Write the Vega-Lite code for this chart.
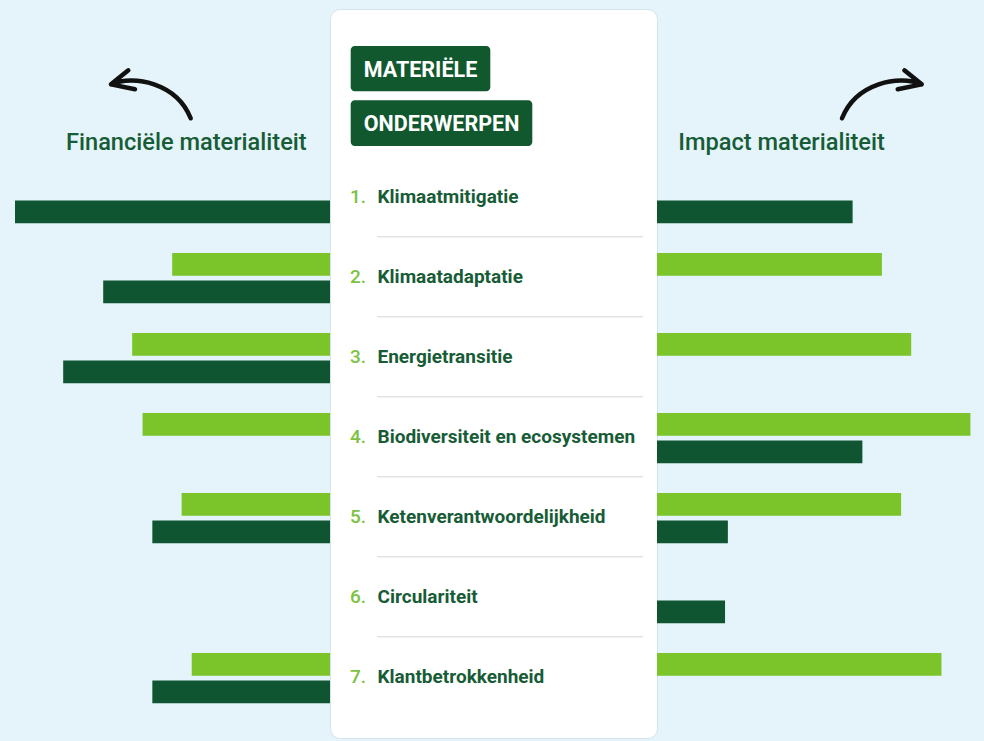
{
  "$schema": "https://vega.github.io/schema/vega-lite/v6.json",
  "background": "#e4f4fa",
  "padding": {"top": 8, "bottom": 4, "left": 0, "right": 0},
  "spacing": 0,
  "bounds": "flush",
  "config": {"view": {"stroke": null}, "concat": {"spacing": 0}},
  "datasets": {
    "balken": [
      {"kant": "financieel", "nr": 1, "reeks": "reeks 2", "waarde": 100},
      {"kant": "financieel", "nr": 2, "reeks": "reeks 1", "waarde": 50.1},
      {"kant": "financieel", "nr": 2, "reeks": "reeks 2", "waarde": 72.0},
      {"kant": "financieel", "nr": 3, "reeks": "reeks 1", "waarde": 62.8},
      {"kant": "financieel", "nr": 3, "reeks": "reeks 2", "waarde": 84.7},
      {"kant": "financieel", "nr": 4, "reeks": "reeks 1", "waarde": 59.5},
      {"kant": "financieel", "nr": 5, "reeks": "reeks 1", "waarde": 47.1},
      {"kant": "financieel", "nr": 5, "reeks": "reeks 2", "waarde": 56.4},
      {"kant": "financieel", "nr": 7, "reeks": "reeks 1", "waarde": 43.9},
      {"kant": "financieel", "nr": 7, "reeks": "reeks 2", "waarde": 56.4},
      {"kant": "impact", "nr": 1, "reeks": "reeks 2", "waarde": 62.1},
      {"kant": "impact", "nr": 2, "reeks": "reeks 1", "waarde": 71.4},
      {"kant": "impact", "nr": 3, "reeks": "reeks 1", "waarde": 80.7},
      {"kant": "impact", "nr": 4, "reeks": "reeks 1", "waarde": 99.5},
      {"kant": "impact", "nr": 4, "reeks": "reeks 2", "waarde": 65.2},
      {"kant": "impact", "nr": 5, "reeks": "reeks 1", "waarde": 77.5},
      {"kant": "impact", "nr": 5, "reeks": "reeks 2", "waarde": 22.5},
      {"kant": "impact", "nr": 6, "reeks": "reeks 2", "waarde": 21.6},
      {"kant": "impact", "nr": 7, "reeks": "reeks 1", "waarde": 90.3}
    ],
    "onderwerpen": [
      {"nr": 1, "num": "1.", "naam": "Klimaatmitigatie"},
      {"nr": 2, "num": "2.", "naam": "Klimaatadaptatie"},
      {"nr": 3, "num": "3.", "naam": "Energietransitie"},
      {"nr": 4, "num": "4.", "naam": "Biodiversiteit en ecosystemen"},
      {"nr": 5, "num": "5.", "naam": "Ketenverantwoordelijkheid"},
      {"nr": 6, "num": "6.", "naam": "Circulariteit"},
      {"nr": 7, "num": "7.", "naam": "Klantbetrokkenheid"}
    ]
  },
  "hconcat": [
    {
      "width": 330,
      "height": 729,
      "layer": [
        {
          "data": {"name": "balken"},
          "transform": [{"filter": "datum.kant === 'financieel'"}],
          "mark": {"type": "bar"},
          "encoding": {
            "y": {"field": "nr", "type": "ordinal", "axis": null,
                  "scale": {"domain": [1, 2, 3, 4, 5, 6, 7], "paddingInner": 0.371, "paddingOuter": 0, "range": [164, 694.3]}},
            "yOffset": {"field": "reeks", "type": "nominal",
                        "scale": {"domain": ["reeks 1", "reeks 2"], "paddingInner": 0.178, "paddingOuter": 0}},
            "x": {"field": "waarde", "type": "quantitative", "axis": null,
                  "scale": {"domain": [0, 104.762], "reverse": true, "nice": false, "zero": true}},
            "color": {"field": "reeks", "type": "nominal", "legend": null,
                      "scale": {"domain": ["reeks 1", "reeks 2"], "range": ["#7bc42a", "#0f5531"]}}
          }
        },
        {
          "data": {"values": [{"titel": "Financiële materialiteit"}]},
          "mark": {"type": "text", "align": "left", "baseline": "alphabetic", "font": "Roboto", "fontSize": 23.6, "fontWeight": 500, "color": "#175c36"},
          "encoding": {"text": {"field": "titel"}, "x": {"value": 66}, "y": {"value": 141.3}}
        },
        {
          "data": {"values": [{"pijl": "links"}]},
          "mark": {"type": "point", "shape": "M -1 -0.26 C -0.45 -0.5 0.6 -0.3 0.944 0.568 M -0.578 -0.602 L -1 -0.26 L -0.415 -0.139",
                   "filled": false, "stroke": "#111111", "strokeWidth": 4.5, "strokeCap": "round", "strokeJoin": "round", "size": 6724, "opacity": 1},
          "encoding": {"x": {"value": 152}, "y": {"value": 86}}
        }
      ]
    },
    {
      "width": 327,
      "height": 729,
      "view": {"fill": "#ffffff", "cornerRadius": 10, "stroke": "#d3e4ea", "strokeWidth": 1},
      "layer": [
        {
          "data": {"values": [{"kop": "MATERIËLE"}]},
          "mark": {"type": "rect", "color": "#11582f", "cornerRadius": 4},
          "encoding": {"x": {"value": 20.7}, "x2": {"value": 160.3}, "y": {"value": 37}, "y2": {"value": 82.3}}
        },
        {
          "data": {"values": [{"kop": "ONDERWERPEN"}]},
          "mark": {"type": "rect", "color": "#11582f", "cornerRadius": 4},
          "encoding": {"x": {"value": 20.7}, "x2": {"value": 202.3}, "y": {"value": 91.3}, "y2": {"value": 137}}
        },
        {
          "data": {"values": [{"kop": "MATERIËLE"}]},
          "mark": {"type": "text", "align": "center", "baseline": "alphabetic", "font": "Roboto", "fontSize": 21.5, "fontWeight": "bold", "color": "#ffffff"},
          "encoding": {"text": {"field": "kop"}, "x": {"value": 90.5}, "y": {"value": 67.5}}
        },
        {
          "data": {"values": [{"kop": "ONDERWERPEN"}]},
          "mark": {"type": "text", "align": "center", "baseline": "alphabetic", "font": "Roboto", "fontSize": 21.5, "fontWeight": "bold", "color": "#ffffff"},
          "encoding": {"text": {"field": "kop"}, "x": {"value": 111.5}, "y": {"value": 121.5}}
        },
        {
          "data": {"name": "onderwerpen"},
          "transform": [{"filter": "datum.nr < 7"}],
          "mark": {"type": "rule", "color": "#e3e3e3", "strokeWidth": 1.5},
          "encoding": {
            "y": {"field": "nr", "type": "ordinal", "axis": null, "bandPosition": 1.266,
                  "scale": {"domain": [1, 2, 3, 4, 5, 6, 7], "paddingInner": 0.371, "paddingOuter": 0, "range": [164, 694.3]}},
            "x": {"value": 47},
            "x2": {"value": 313}
          }
        },
        {
          "data": {"name": "onderwerpen"},
          "mark": {"type": "text", "align": "left", "baseline": "alphabetic", "font": "Roboto", "fontSize": 19, "fontWeight": 500, "color": "#7cc242"},
          "encoding": {
            "y": {"field": "nr", "type": "ordinal", "axis": null, "bandPosition": 0.59,
                  "scale": {"domain": [1, 2, 3, 4, 5, 6, 7], "paddingInner": 0.371, "paddingOuter": 0, "range": [164, 694.3]}},
            "x": {"value": 20},
            "text": {"field": "num"}
          }
        },
        {
          "data": {"name": "onderwerpen"},
          "mark": {"type": "text", "align": "left", "baseline": "alphabetic", "font": "Roboto", "fontSize": 19, "fontWeight": "bold", "color": "#175c36"},
          "encoding": {
            "y": {"field": "nr", "type": "ordinal", "axis": null, "bandPosition": 0.59,
                  "scale": {"domain": [1, 2, 3, 4, 5, 6, 7], "paddingInner": 0.371, "paddingOuter": 0, "range": [164, 694.3]}},
            "x": {"value": 47.5},
            "text": {"field": "naam"}
          }
        }
      ]
    },
    {
      "width": 327,
      "height": 729,
      "layer": [
        {
          "data": {"name": "balken"},
          "transform": [{"filter": "datum.kant === 'impact'"}],
          "mark": {"type": "bar"},
          "encoding": {
            "y": {"field": "nr", "type": "ordinal", "axis": null,
                  "scale": {"domain": [1, 2, 3, 4, 5, 6, 7], "paddingInner": 0.371, "paddingOuter": 0, "range": [164, 694.3]}},
            "yOffset": {"field": "reeks", "type": "nominal",
                        "scale": {"domain": ["reeks 1", "reeks 2"], "paddingInner": 0.178, "paddingOuter": 0}},
            "x": {"field": "waarde", "type": "quantitative", "axis": null,
                  "scale": {"domain": [0, 103.81], "nice": false, "zero": true}},
            "color": {"field": "reeks", "type": "nominal", "legend": null,
                      "scale": {"domain": ["reeks 1", "reeks 2"], "range": ["#7bc42a", "#0f5531"]}}
          }
        },
        {
          "data": {"values": [{"titel": "Impact materialiteit"}]},
          "mark": {"type": "text", "align": "left", "baseline": "alphabetic", "font": "Roboto", "fontSize": 23.6, "fontWeight": 500, "color": "#175c36"},
          "encoding": {"text": {"field": "titel"}, "x": {"value": 21.3}, "y": {"value": 141.3}}
        },
        {
          "data": {"values": [{"pijl": "rechts"}]},
          "mark": {"type": "point", "shape": "M 1 -0.26 C 0.45 -0.5 -0.6 -0.3 -0.944 0.568 M 0.578 -0.602 L 1 -0.26 L 0.415 -0.139",
                   "filled": false, "stroke": "#111111", "strokeWidth": 4.5, "strokeCap": "round", "strokeJoin": "round", "size": 6724, "opacity": 1},
          "encoding": {"x": {"value": 223.7}, "y": {"value": 86}}
        }
      ]
    }
  ]
}
